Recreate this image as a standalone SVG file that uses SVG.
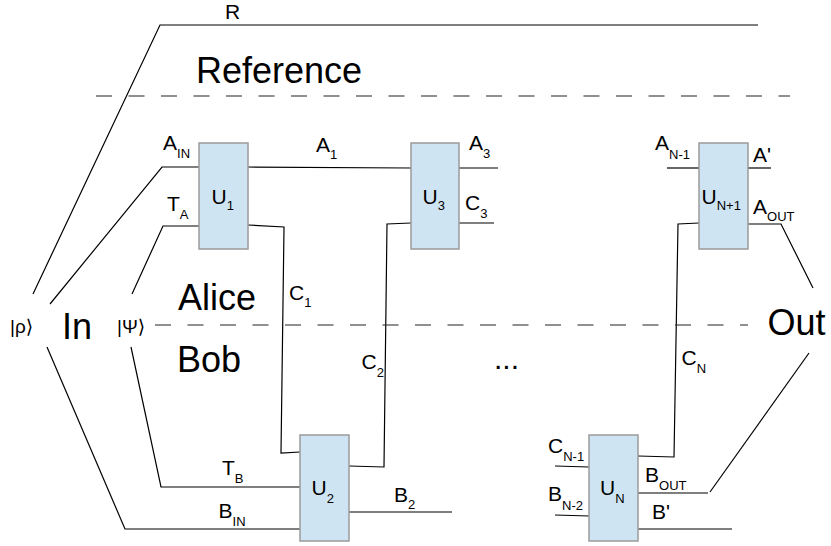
<svg xmlns="http://www.w3.org/2000/svg" width="831" height="546" viewBox="0 0 831 546">
<style>
text{font-family:"Liberation Sans",Arial,sans-serif;fill:#000}
.lbl{font-size:21px}
.sub{font-size:13px}
.big{font-size:36px}
.ket{font-size:19px;font-family:"Liberation Sans","DejaVu Sans",sans-serif}
.box{fill:#cfe4f2;stroke:#9a9a9a;stroke-width:1.5}
.w{fill:none;stroke:#000;stroke-width:1.2}
.dash{fill:none;stroke:#222;stroke-width:1.2;stroke-dasharray:16 16.5}
</style>
<rect width="831" height="546" fill="#fff"/>
<g id="connectors">
<polyline class="w" points="33,294 160,25 758,25"/>
<polyline class="w" points="50,304 162,167 199,167"/>
<polyline class="w" points="132,294 163,226 199,226"/>
<polyline class="w" points="47,347 125,529 300,529"/>
<polyline class="w" points="131,347 161,487 300,487"/>
<polyline class="w" points="248,167 411,168"/>
<polyline class="w" points="248,225 284,227 281,453 300,452"/>
<polyline class="w" points="349,466 384,467 387,224 411,223"/>
<polyline class="w" points="459,168 498,168"/>
<polyline class="w" points="459,223 494,223"/>
<polyline class="w" points="667,168 699,168"/>
<polyline class="w" points="748,168 771,168"/>
<polyline class="w" points="748,224 781,224 813,288"/>
<polyline class="w" points="699,223 678,224 674,457 638,456"/>
<polyline class="w" points="638,493 708,493"/>
<polyline class="w" points="710,492 809,353"/>
<polyline class="w" points="638,529 732,529"/>
<polyline class="w" points="349,512 452,512"/>
<polyline class="w" points="555,466 589,467"/>
<polyline class="w" points="555,515 589,516"/>
<line class="dash" x1="96" y1="96" x2="790" y2="96"/>
<line class="dash" x1="155" y1="325" x2="748" y2="325"/>
</g>
<g id="U1"><rect class="box" x="199" y="143" width="49" height="106"/><text class="lbl" x="211.5" y="203.5">U<tspan class="sub" dy="6.5">1</tspan></text></g>
<g id="U3"><rect class="box" x="411" y="143" width="48" height="106"/><text class="lbl" x="422.5" y="203.5">U<tspan class="sub" dy="6">3</tspan></text></g>
<g id="UN1"><rect class="box" x="699" y="143" width="49" height="106"/><text class="lbl" x="701.5" y="203.5">U<tspan class="sub" dy="6.5">N+1</tspan></text></g>
<g id="U2"><rect class="box" x="300" y="435" width="49" height="106"/><text class="lbl" x="311.5" y="495">U<tspan class="sub" dy="7.5">2</tspan></text></g>
<g id="UN"><rect class="box" x="589" y="435" width="49" height="106"/><text class="lbl" x="600" y="495">U<tspan class="sub" dy="8">N</tspan></text></g>
<g id="labels">
<text class="lbl" x="225" y="19">R</text>
<text class="big" x="196" y="83">Reference</text>
<text class="big" x="178" y="310">Alice</text>
<text class="big" x="177" y="372">Bob</text>
<text class="big" x="62" y="339">In</text>
<text class="big" x="767.5" y="335">Out</text>
<text class="ket" x="10" y="333">|ρ⟩</text>
<text class="ket" x="117" y="333">|Ψ⟩</text>
<text class="lbl" x="163" y="150">A<tspan class="sub" dy="8">IN</tspan></text>
<text class="lbl" x="167" y="211">T<tspan class="sub" dy="8">A</tspan></text>
<text class="lbl" x="316" y="152">A<tspan class="sub" dy="6.5">1</tspan></text>
<text class="lbl" x="469" y="149.5">A<tspan class="sub" dy="8.5">3</tspan></text>
<text class="lbl" x="465" y="209.5">C<tspan class="sub" dy="8">3</tspan></text>
<text class="lbl" x="655" y="149.5">A<tspan class="sub" dy="9">N-1</tspan></text>
<text class="lbl" x="753" y="161.5">A'</text>
<text class="lbl" x="753" y="213.5">A<tspan class="sub" dy="7.5">OUT</tspan></text>
<text class="lbl" x="289" y="300">C<tspan class="sub" dy="7">1</tspan></text>
<text class="lbl" x="361.5" y="368.5">C<tspan class="sub" dy="8">2</tspan></text>
<text class="lbl" x="494" y="369" style="font-size:30px">...</text>
<text class="lbl" x="681.5" y="365">C<tspan class="sub" dy="7.5">N</tspan></text>
<text class="lbl" x="222" y="475">T<tspan class="sub" dy="7.5">B</tspan></text>
<text class="lbl" x="218.5" y="518">B<tspan class="sub" dy="8">IN</tspan></text>
<text class="lbl" x="394" y="502">B<tspan class="sub" dy="6.5">2</tspan></text>
<text class="lbl" x="548" y="453">C<tspan class="sub" dy="8">N-1</tspan></text>
<text class="lbl" x="548" y="501">B<tspan class="sub" dy="8.5">N-2</tspan></text>
<text class="lbl" x="645" y="482">B<tspan class="sub" dy="8">OUT</tspan></text>
<text class="lbl" x="652" y="518.5">B'</text>
</g>
</svg>
